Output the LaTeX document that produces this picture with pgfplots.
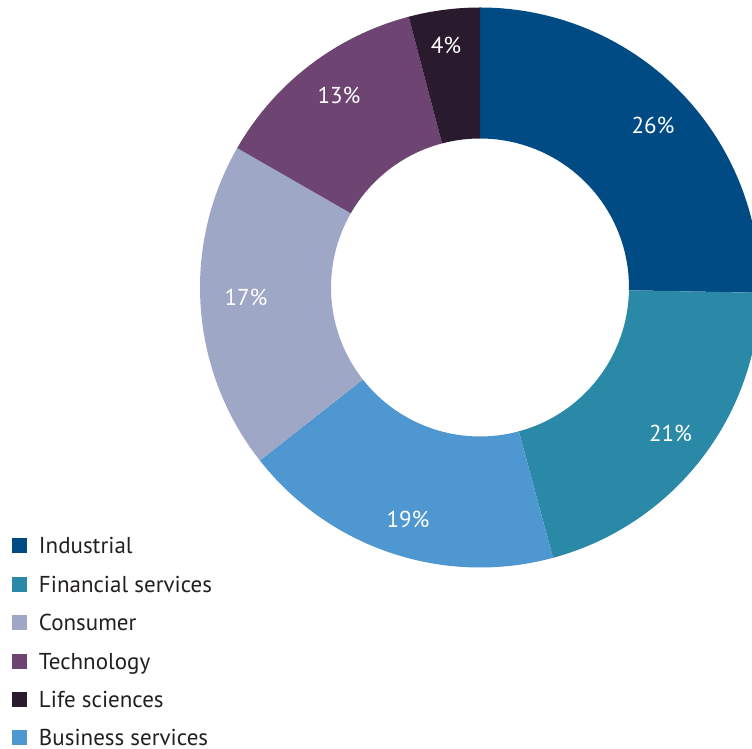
\documentclass[border=0pt]{standalone}
\usepackage{fontspec}
\setmainfont{PT Sans}
\usepackage{pgfplots}
\usepackage{pgfplotstable}
\pgfplotsset{compat=1.18}

\definecolor{cInd}{HTML}{004B84}
\definecolor{cFin}{HTML}{2B89A8}
\definecolor{cBus}{HTML}{4F97D0}
\definecolor{cCon}{HTML}{9EA8C6}
\definecolor{cTec}{HTML}{6D4472}
\definecolor{cLif}{HTML}{2A1A2E}
\definecolor{legtext}{HTML}{231F20}

\newcommand\labelfont{\fontsize{23}{27}\selectfont}

% slices clockwise from 12 o'clock: share (% of ring), printed label, label position
\pgfplotstableread{
share label lx ly col
25.3 26 173 162.5 cInd
20.5 21 190.5 -145.5 cFin
18.6 19 -72 -232 cBus
18.9 17 -234 -9.5 cCon
12.6 13 -141 192.2 cTec
4.1 4 -34 242 cLif
}\donut

\pgfmathsetmacro\cum{0}
\pgfplotsforeachungrouped \i in {0,1,2,3,4,5}{%
  \pgfplotstablegetelem{\i}{share}\of\donut
  \pgfmathsetmacro\sa{90-3.6*\cum}%
  \pgfmathsetmacro\cum{\cum+\pgfplotsretval}%
  \pgfmathsetmacro\sb{90-3.6*\cum}%
  \expandafter\xdef\csname sa\i\endcsname{\sa}%
  \expandafter\xdef\csname sb\i\endcsname{\sb}%
  \pgfplotstablegetelem{\i}{col}\of\donut
  \expandafter\xdef\csname sc\i\endcsname{\pgfplotsretval}%
  \pgfplotstablegetelem{\i}{label}\of\donut
  \expandafter\xdef\csname sl\i\endcsname{\pgfplotsretval}%
  \pgfplotstablegetelem{\i}{lx}\of\donut
  \expandafter\xdef\csname sx\i\endcsname{\pgfplotsretval}%
  \pgfplotstablegetelem{\i}{ly}\of\donut
  \expandafter\xdef\csname sy\i\endcsname{\pgfplotsretval}%
}

\begin{document}
\begin{tikzpicture}
\begin{axis}[
  x=1pt, y=1pt,
  xmin=-480, xmax=272, ymin=-461.5, ymax=287.5,
  hide axis,
  legend image code/.code={\fill (0pt,-7.5pt) rectangle (15pt,7.5pt);},
  legend cell align=left,
  legend style={
    draw=none, fill=none,
    at={(axis cs:-468,-250.5)}, anchor=north west,
    inner sep=0pt, outer sep=0pt,
    row sep=22.4pt, column sep=12pt,
    nodes={inner sep=0pt, outer sep=0pt, text height=16pt, text depth=0pt},
    font=\labelfont, text=legtext,
  },
]
\coordinate (LL) at (axis cs:-480,-461.5);
\coordinate (UR) at (axis cs:272,287.5);

\pgfplotsinvokeforeach{0,...,5}{%
  \edef\cmd{\noexpand\fill[\csname sc#1\endcsname]
    (axis cs:{280*cos(\csname sa#1\endcsname)},{280*sin(\csname sa#1\endcsname)})
    arc[start angle=\csname sa#1\endcsname, end angle=\csname sb#1\endcsname, radius=280pt]
    -- (axis cs:{149*cos(\csname sb#1\endcsname)},{149*sin(\csname sb#1\endcsname)})
    arc[start angle=\csname sb#1\endcsname, end angle=\csname sa#1\endcsname, radius=149pt]
    -- cycle;}%
  \cmd
  \edef\cmd{\noexpand\node[text=white, font=\noexpand\labelfont, inner sep=0pt]
    at (axis cs:\csname sx#1\endcsname,\csname sy#1\endcsname)
    {\csname sl#1\endcsname\noexpand\%};}%
  \cmd
}

\addlegendimage{fill=cInd, draw=none}
\addlegendentry{Industrial}
\addlegendimage{fill=cFin, draw=none}
\addlegendentry{Financial services}
\addlegendimage{fill=cCon, draw=none}
\addlegendentry{Consumer}
\addlegendimage{fill=cTec, draw=none}
\addlegendentry{Technology}
\addlegendimage{fill=cLif, draw=none}
\addlegendentry{Life sciences}
\addlegendimage{fill=cBus, draw=none}
\addlegendentry{Business services}
\end{axis}
\pgfresetboundingbox
\useasboundingbox (LL) rectangle (UR);
\end{tikzpicture}
\end{document}
